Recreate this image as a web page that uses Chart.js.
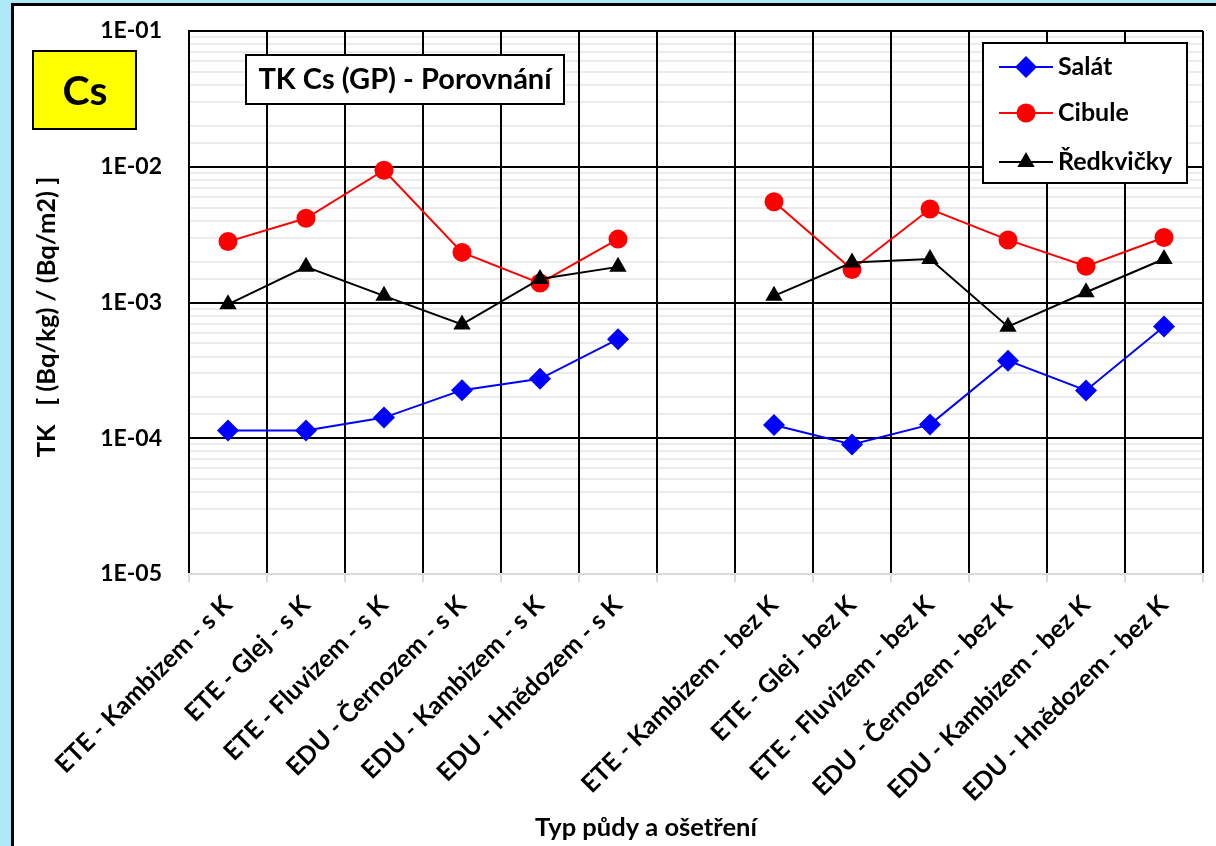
<!DOCTYPE html>
<html>
<head>
<meta charset="utf-8">
<script src="https://cdn.jsdelivr.net/npm/chart.js@4.4.1/dist/chart.umd.min.js"></script>
<style>
  html, body { margin: 0; padding: 0; background: #aee9f7; }
  #wrap { width: 1216px; height: 846px; }
</style>
</head>
<body>
<div id="wrap"><canvas id="chart" width="1216" height="846"></canvas></div>
<script>
// categories (7th slot is an empty gap between the two groups)
const categories = [
  'ETE - Kambizem - s K', 'ETE - Glej - s K', 'ETE - Fluvizem - s K',
  'EDU - Černozem - s K', 'EDU - Kambizem - s K', 'EDU - Hnědozem - s K',
  '',
  'ETE - Kambizem - bez K', 'ETE - Glej - bez K', 'ETE - Fluvizem - bez K',
  'EDU - Černozem - bez K', 'EDU - Kambizem - bez K', 'EDU - Hnědozem - bez K'
];
const salat     = [1.14e-4, 1.14e-4, 1.42e-4, 2.26e-4, 2.74e-4, 5.37e-4, null, 1.25e-4, 9.0e-5, 1.26e-4, 3.73e-4, 2.25e-4, 6.65e-4];
const cibule    = [2.81e-3, 4.17e-3, 9.42e-3, 2.34e-3, 1.39e-3, 2.93e-3, null, 5.52e-3, 1.75e-3, 4.88e-3, 2.89e-3, 1.85e-3, 3.01e-3];
const redkvicky = [9.7e-4, 1.83e-3, 1.12e-3, 6.9e-4, 1.49e-3, 1.83e-3, null, 1.12e-3, 1.97e-3, 2.09e-3, 6.64e-4, 1.19e-3, 2.09e-3];
const yTickLabels = ['1E-05', '1E-04', '1E-03', '1E-02', '1E-01'];

const FONT = 'Lato';
Chart.defaults.font.family = FONT;
Chart.defaults.color = '#000';

function isDecade(v) {
  const e = Math.log10(v);
  return Math.abs(e - Math.round(e)) < 1e-6;
}

// background frame, badge, title box, legend and axis titles
const decor = {
  id: 'decor',
  beforeDraw(chart) {
    const ctx = chart.ctx;
    ctx.save();
    ctx.fillStyle = '#aee9f7';
    ctx.fillRect(0, 0, chart.width, chart.height);
    ctx.fillStyle = '#ffffff';
    ctx.fillRect(12, 4, chart.width - 12, chart.height - 4);
    ctx.strokeStyle = '#000';
    ctx.lineWidth = 3;
    ctx.beginPath();
    ctx.moveTo(12.5, chart.height);
    ctx.lineTo(12.5, 4.5);
    ctx.lineTo(chart.width, 4.5);
    ctx.stroke();

    // yellow "Cs" box
    ctx.fillStyle = '#ffff00';
    ctx.fillRect(33, 51, 103, 78);
    ctx.lineWidth = 2;
    ctx.strokeRect(33, 51, 103, 78);
    ctx.fillStyle = '#000';
    ctx.font = 'bold 41px ' + FONT;
    ctx.textAlign = 'center';
    ctx.textBaseline = 'middle';
    ctx.fillText('Cs', 85, 92);

    // axis titles
    ctx.font = 'bold 25.5px ' + FONT;
    ctx.fillText('Typ půdy a ošetření', 646, 828);
    ctx.translate(47, 317);
    ctx.rotate(-Math.PI / 2);
    ctx.fillText('TK   [ (Bq/kg) / (Bq/m2) ]', 0, 0);
    ctx.restore();
  },
  afterDraw(chart) {
    const ctx = chart.ctx;
    ctx.save();
    // title box
    ctx.fillStyle = '#fff';
    ctx.fillRect(246, 55, 318, 49);
    ctx.strokeStyle = '#000';
    ctx.lineWidth = 2;
    ctx.strokeRect(246, 55, 318, 49);
    ctx.fillStyle = '#000';
    ctx.font = 'bold 29px ' + FONT;
    ctx.textAlign = 'center';
    ctx.textBaseline = 'middle';
    ctx.fillText('TK Cs (GP) - Porovnání', 405, 80);

    // legend
    ctx.fillStyle = '#fff';
    ctx.fillRect(983, 43, 204, 140);
    ctx.strokeRect(983, 43, 204, 140);
    const rows = [67, 113, 162];
    chart.data.datasets.forEach((ds, i) => {
      const y = rows[i];
      ctx.strokeStyle = ds.borderColor;
      ctx.lineWidth = 2;
      ctx.beginPath();
      ctx.moveTo(999, y);
      ctx.lineTo(1053, y);
      ctx.stroke();
      ctx.fillStyle = ds.backgroundColor;
      Chart.helpers.drawPoint(ctx, {pointStyle: ds.pointStyle, radius: ds.pointRadius, rotation: 0, borderWidth: 0}, 1026, y);
      ctx.fillStyle = '#000';
      ctx.font = 'bold 25px ' + FONT;
      ctx.textAlign = 'left';
      ctx.textBaseline = 'middle';
      ctx.fillText(ds.label, 1058, y);
    });
    ctx.restore();
  }
};

const ctx = document.getElementById('chart').getContext('2d');
const chart = new Chart(ctx, {
  type: 'line',
  data: {
    labels: categories,
    datasets: [
      {
        label: 'Salát', data: salat, order: 2,
        borderColor: '#0000ff', backgroundColor: '#0000ff', borderWidth: 2,
        pointStyle: 'rectRot', pointRadius: 11, pointBorderWidth: 0
      },
      {
        label: 'Cibule', data: cibule, order: 1,
        borderColor: '#ff0000', backgroundColor: '#ff0000', borderWidth: 2,
        pointStyle: 'circle', pointRadius: 9.5, pointBorderWidth: 0
      },
      {
        label: 'Ředkvičky', data: redkvicky, order: 0,
        borderColor: '#000000', backgroundColor: '#000000', borderWidth: 2,
        pointStyle: 'triangle', pointRadius: 10, pointBorderWidth: 0
      }
    ]
  },
  options: {
    responsive: false,
    animation: false,
    devicePixelRatio: 1,
    layout: { padding: { top: 31, right: 13, left: 0, bottom: 0 } },
    plugins: { legend: { display: false }, tooltip: { enabled: false } },
    scales: {
      y: {
        type: 'logarithmic',
        min: 1e-5,
        max: 1e-1,
        afterFit(scale) {
          scale.width = 189;
          scale.paddingTop = 14;
          scale.paddingBottom = 14;
        },
        border: { color: '#000', width: 2 },
        grid: {
          drawTicks: false,
          lineWidth: 2,
          color: c => {
            if (!isDecade(c.tick.value)) return '#ebebeb';
            return c.tick.value < 2e-5 ? '#d9d9d9' : '#000';
          }
        },
        ticks: {
          autoSkip: false,
          padding: 27,
          font: { size: 23, weight: 'bold' },
          callback: v => isDecade(v) ? yTickLabels[Math.round(Math.log10(v)) + 5] : ''
        }
      },
      x: {
        offset: true,
        afterFit(scale) { scale.height = 846 - 574; },
        border: { color: '#d9d9d9', width: 2 },
        grid: {
          offset: true,
          z: 0,
          color: '#000',
          lineWidth: 2,
          tickColor: '#d9d9d9',
          tickLength: 8
        },
        ticks: {
          autoSkip: false,
          minRotation: 45,
          maxRotation: 45,
          padding: 8,
          font: { size: 25, weight: 'bold' }
        }
      }
    }
  },
  plugins: [decor]
});
</script>
</body>
</html>
